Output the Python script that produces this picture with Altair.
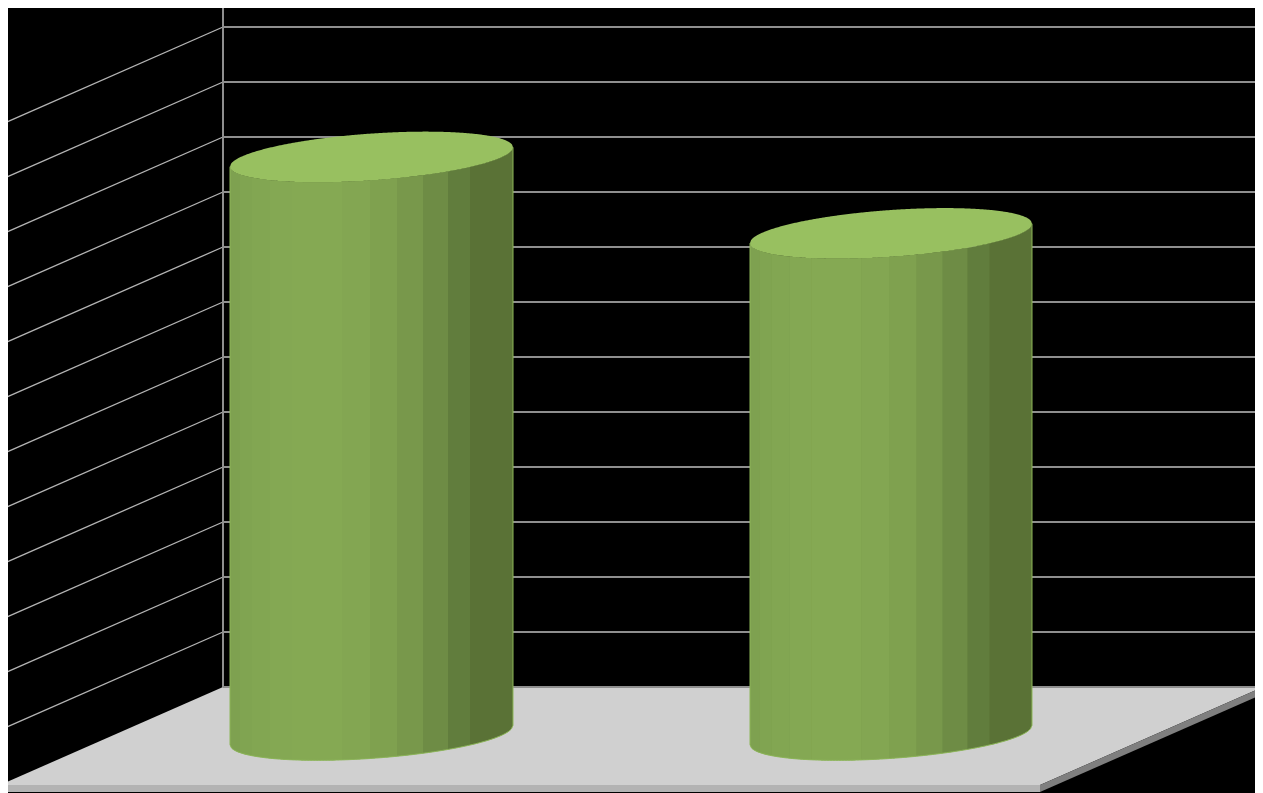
import math
import altair as alt
import pandas as pd

# --- chart values, in gridline units above the back-wall floor line
categories = ["A", "B"]
bar_values = [10.51, 9.12]
bar_left = [230, 750]
bar_widths = [283, 282]
gridlevels = list(range(0, 13))
strip_edges = [0, 10, 22, 40, 62, 112, 140, 167, 193, 218, 240, 283]
strip_colors = ["#7ea150", "#80a451", "#82a652", "#84a853", "#85a953", "#83a652",
                "#7fa14f", "#78984b", "#6e8c45", "#617d3d", "#5a7236"]
body_color = "#7b9d4d"
top_color = "#98c060"
edge_color = "#8db659"

# --- geometry of the pseudo-3D frame
PX = 55.0                # pixels per gridline unit
wall_x, right_x, front_x = 223, 1263, 1040
left_x = 0
depth = 98.0 / PX        # floor depth in gridline units
skirt = 7.0 / PX
base_level = -48.0 / PX  # centre of the cylinder bases
tilt = 9.7 / PX          # rise of the cylinder ellipses over half a width
minor = 23.4 / PX        # vertical half-axis of the ellipses

x_scale = alt.Scale(domain=[8, 1255], nice=False, zero=False)
y_scale = alt.Scale(domain=[(687 - 793) / PX, (687 - 8) / PX], nice=False, zero=False)
X = alt.X("x:Q", scale=x_scale, axis=None)
Y = alt.Y("y:Q", scale=y_scale, axis=None)
Y2 = alt.Y2("y2:Q")


def area(rows, color):
    return alt.Chart(pd.DataFrame(rows)).mark_area(
        color=color, opacity=1, clip=True, interpolate="linear"
    ).encode(X, Y, Y2)


floor = area(
    [{"x": left_x, "y": -depth, "y2": -depth},
     {"x": wall_x, "y": 0, "y2": -depth},
     {"x": front_x, "y": 0, "y2": -depth},
     {"x": right_x, "y": 0, "y2": 0}],
    "#d0d0d0",
)
front = area(
    [{"x": left_x, "y": -depth, "y2": -depth - skirt},
     {"x": front_x, "y": -depth, "y2": -depth - skirt}],
    "#b3b3b3",
)
side = area(
    [{"x": front_x, "y": -depth, "y2": -depth - skirt},
     {"x": right_x, "y": 0, "y2": -skirt}],
    "#7f7f7f",
)

back_rows = []
side_rows = []
for lv in gridlevels:
    back_rows += [{"x": wall_x, "y": lv, "k": lv}, {"x": right_x, "y": lv, "k": lv}]
    if lv > 0:
        side_rows += [{"x": left_x, "y": lv - depth, "k": lv}, {"x": wall_x, "y": lv, "k": lv}]

back_grid = alt.Chart(pd.DataFrame(back_rows)).mark_line(color="#8f8f8f", strokeWidth=1.8, clip=True).encode(
    X, Y, detail="k:N")
side_grid = alt.Chart(pd.DataFrame(side_rows)).mark_line(color="#b4b4b4", strokeWidth=1.3, clip=True).encode(
    X, Y, detail="k:N")
walls = alt.Chart(pd.DataFrame([
    {"x": wall_x, "y": 0, "k": "w"}, {"x": wall_x, "y": 12.6, "k": "w"},
])).mark_line(color="#8f8f8f", strokeWidth=2, clip=True).encode(X, Y, detail="k:N")


def rim_y(centre, s, sign):
    """Sheared ellipse: height at relative position s in [-1, 1]."""
    return centre + tilt * s + sign * minor * math.sqrt(max(0.0, 1 - s * s))


def xs_between(a, b, step=2.0):
    n = max(2, int(math.ceil((b - a) / step)) + 1)
    return [a + (b - a) * i / (n - 1) for i in range(n)]


layers = [floor, front, side, back_grid, side_grid, walls]

for name, value, left, width in zip(categories, bar_values, bar_left, bar_widths):
    cx = left + width / 2
    half = width / 2
    top_level = base_level + value
    backing = []
    for px in xs_between(left, left + width):
        s = (px - cx) / half
        backing.append({"x": px, "y": rim_y(top_level, s, -1), "y2": rim_y(base_level, s, -1)})
    rows = []
    scale_w = width / 283
    for i, col in enumerate(strip_colors):
        a = left + strip_edges[i] * scale_w
        b = left + strip_edges[i + 1] * scale_w
        for px in xs_between(a, b):
            s = (px - cx) / half
            rows.append({"x": px, "y": rim_y(top_level, s, -1), "y2": rim_y(base_level, s, -1),
                         "strip": f"{name}{i}", "col": col})
    body = alt.Chart(pd.DataFrame(rows)).mark_area(opacity=1, clip=True).encode(
        X, Y, Y2,
        color=alt.Color("col:N", scale=None),
        detail="strip:N",
    )
    outline = []
    outline.append({"x": left, "y": rim_y(top_level, -1, -1), "o": 0})
    for j, px in enumerate(xs_between(left, left + width, 1.5)):
        outline.append({"x": px, "y": rim_y(base_level, (px - cx) / half, -1), "o": j + 1})
    outline.append({"x": left + width, "y": rim_y(top_level, 1, -1), "o": len(outline)})
    edge = alt.Chart(pd.DataFrame(outline)).mark_line(color=edge_color, strokeWidth=1, clip=True).encode(
        X, Y, order="o:Q")
    cap_rows = []
    for px in xs_between(left, left + width, 1.0):
        s = (px - cx) / half
        cap_rows.append({"x": px, "y": rim_y(top_level, s, 1), "y2": rim_y(top_level, s, -1)})
    cap = area(cap_rows, top_color)
    layers += [area(backing, body_color), body, edge, cap]

chart = (
    alt.layer(*layers)
    .properties(width=1247, height=785, padding=0, background="#000000", autosize=alt.AutoSizeParams(type="none"))
    .configure_view(stroke=None, fill="#000000")
)

chart.save("out.html", embed_options={"renderer": "svg", "actions": False})
